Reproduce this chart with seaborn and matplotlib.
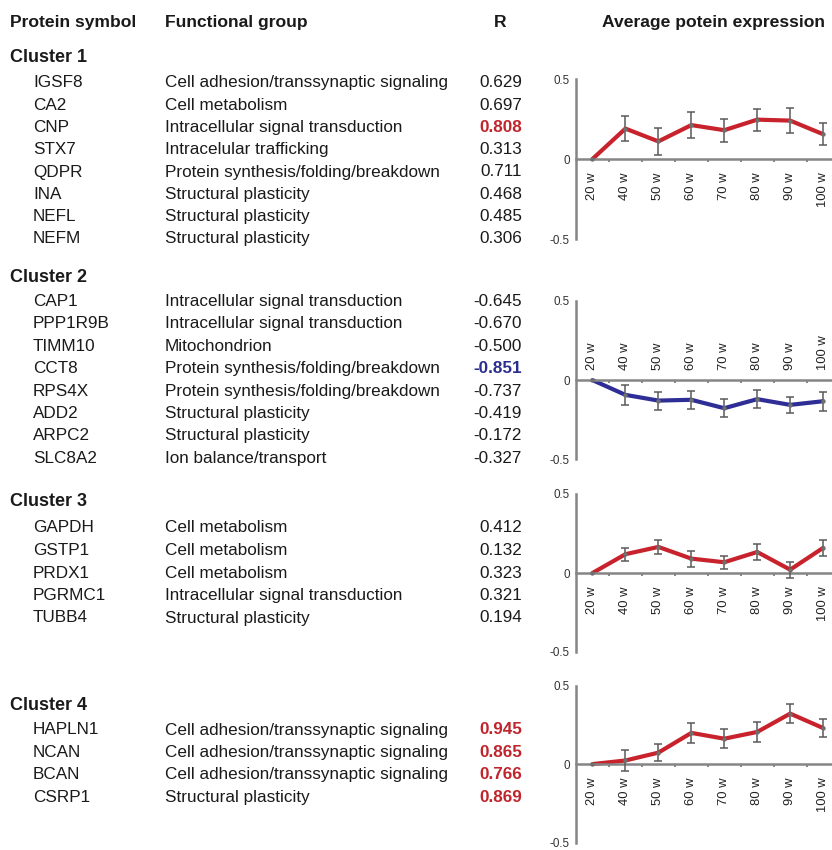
import numpy as np
import pandas as pd
import matplotlib
matplotlib.use("Agg")
import matplotlib.pyplot as plt
from matplotlib.ticker import FixedLocator
import seaborn as sns

sns.set_theme(style="white")
plt.rcParams["font.family"] = ["Liberation Sans", "DejaVu Sans"]

# ---------------------------------------------------------------- data
weeks = ["20 w", "40 w", "50 w", "60 w", "70 w", "80 w", "90 w", "100 w"]

cluster_names = ["Cluster 1", "Cluster 2", "Cluster 3", "Cluster 4"]

c1_symbols = ["IGSF8", "CA2", "CNP", "STX7", "QDPR", "INA", "NEFL", "NEFM"]
c1_groups = ["Cell adhesion/transsynaptic signaling", "Cell metabolism",
             "Intracellular signal transduction", "Intracelular trafficking",
             "Protein synthesis/folding/breakdown", "Structural plasticity",
             "Structural plasticity", "Structural plasticity"]
c1_r = [0.629, 0.697, 0.808, 0.313, 0.711, 0.468, 0.485, 0.306]

c2_symbols = ["CAP1", "PPP1R9B", "TIMM10", "CCT8", "RPS4X", "ADD2", "ARPC2", "SLC8A2"]
c2_groups = ["Intracellular signal transduction", "Intracellular signal transduction",
             "Mitochondrion", "Protein synthesis/folding/breakdown",
             "Protein synthesis/folding/breakdown", "Structural plasticity",
             "Structural plasticity", "Ion balance/transport"]
c2_r = [-0.645, -0.670, -0.500, -0.851, -0.737, -0.419, -0.172, -0.327]

c3_symbols = ["GAPDH", "GSTP1", "PRDX1", "PGRMC1", "TUBB4"]
c3_groups = ["Cell metabolism", "Cell metabolism", "Cell metabolism",
             "Intracellular signal transduction", "Structural plasticity"]
c3_r = [0.412, 0.132, 0.323, 0.321, 0.194]

c4_symbols = ["HAPLN1", "NCAN", "BCAN", "CSRP1"]
c4_groups = ["Cell adhesion/transsynaptic signaling", "Cell adhesion/transsynaptic signaling",
             "Cell adhesion/transsynaptic signaling", "Structural plasticity"]
c4_r = [0.945, 0.865, 0.766, 0.869]

c1_mean = [0.0, 0.190, 0.110, 0.212, 0.180, 0.246, 0.240, 0.155]
c1_err = [0.0, 0.078, 0.083, 0.080, 0.072, 0.068, 0.080, 0.068]
c2_mean = [0.0, -0.093, -0.129, -0.124, -0.177, -0.120, -0.156, -0.133]
c2_err = [0.0, 0.063, 0.057, 0.055, 0.057, 0.057, 0.051, 0.061]
c3_mean = [0.0, 0.119, 0.165, 0.091, 0.068, 0.133, 0.021, 0.159]
c3_err = [0.0, 0.040, 0.047, 0.051, 0.042, 0.051, 0.051, 0.051]
c4_mean = [0.0, 0.023, 0.073, 0.199, 0.162, 0.205, 0.322, 0.230]
c4_err = [0.0, 0.070, 0.054, 0.064, 0.062, 0.064, 0.062, 0.060]

# ---------------------------------------------------------------- styling
W, H = 832, 850
RED = "#c8232c"
BLUE = "#2e2e96"
TXT_RED = "#c0252c"
TXT_BLUE = "#2b2e8f"
INK = "#1a1a1a"
GRAY = "#858585"
ERR = "#5a5a5a"

fig = plt.figure(figsize=(W / 100, H / 100), dpi=100)
fig.patch.set_facecolor("white")


def fx(x):
    return x / W


def fy(y):
    return 1 - y / H


def put(x, y, s, **kw):
    fig.text(fx(x), fy(y), s, va="baseline", **kw)


# column headers
hdr = dict(fontsize=12.6, fontweight="bold", color=INK)
put(10, 27, "Protein symbol", **hdr)
put(165, 27, "Functional group", **hdr)
put(500.5, 27, "R", ha="center", **hdr)
put(713, 27, "Average potein expression", ha="center", **hdr)

# table blocks: (header baseline, first row baseline, row step)
tables = [
    (c1_symbols, c1_groups, c1_r, 61.5, 87.3, 22.3),
    (c2_symbols, c2_groups, c2_r, 281.5, 306.0, 22.4),
    (c3_symbols, c3_groups, c3_r, 506.0, 532.5, 22.5),
    (c4_symbols, c4_groups, c4_r, 710.5, 734.5, 22.45),
]

for name, (syms, grps, rs, yh, y0, dy) in zip(cluster_names, tables):
    put(10, yh, name, fontsize=13, fontweight="bold", color=INK)
    for i, (s, g, r) in enumerate(zip(syms, grps, rs)):
        y = y0 + i * dy
        put(33, y, s, fontsize=12.3, color=INK)
        put(165, y, g, fontsize=12.3, color=INK)
        if abs(r) >= 0.75:
            col = TXT_RED if r > 0 else TXT_BLUE
            put(522, y, f"{r:.3f}", ha="right", fontsize=12.3, fontweight="bold", color=col)
        else:
            put(522, y, f"{r:.3f}", ha="right", fontsize=12.3, color=INK)

# ---------------------------------------------------------------- small line charts
# (pixel top of +0.5, pixel bottom of -0.5, means, errors, colour, labels above axis)
panels = [
    (79.0, 239.0, c1_mean, c1_err, RED, False),
    (300.7, 459.5, c2_mean, c2_err, BLUE, True),
    (494.0, 652.0, c3_mean, c3_err, RED, False),
    (685.7, 842.5, c4_mean, c4_err, RED, False),
]

x_left, x_right = 576.0, 832.0
pos = np.arange(len(weeks))

for top, bot, mean, err, col, above in panels:
    ax = fig.add_axes([fx(x_left), fy(bot), (x_right - x_left) / W, (bot - top) / H])
    ax.set_facecolor("none")
    df = pd.DataFrame({"pos": pos, "mean": mean, "err": err})

    sns.lineplot(data=df, x="pos", y="mean", ax=ax, color=col, lw=3.0,
                 zorder=2, legend=False)
    sub = df[df["err"] > 0]
    ax.errorbar(sub["pos"], sub["mean"], yerr=sub["err"], fmt="none",
                ecolor=ERR, elinewidth=1.1, capsize=2.6, capthick=1.1, zorder=3)
    ax.scatter(df["pos"], df["mean"], s=10, color="#6f6f6f", zorder=4, linewidths=0)

    ax.set_xlim(-0.5, 7.27)
    ax.set_ylim(-0.5, 0.5)
    ax.set_xlabel("")
    ax.set_ylabel("")

    for sp in ax.spines.values():
        sp.set_visible(False)
    ax.spines["left"].set_visible(True)
    ax.spines["left"].set_color(GRAY)
    ax.spines["left"].set_linewidth(1.8)

    ax.set_yticks([-0.5, 0, 0.5])
    ax.set_yticklabels(["-0.5", "0", "0.5"])
    ax.tick_params(axis="y", length=0, pad=4.5, labelsize=8.4, labelcolor="#333333")

    side = "top" if above else "bottom"
    sp = ax.spines[side]
    sp.set_visible(True)
    sp.set_position(("data", 0))
    sp.set_color(GRAY)
    sp.set_linewidth(1.8)
    if above:
        ax.xaxis.set_ticks_position("top")
        ax.xaxis.set_label_position("top")
    ax.set_xticks(pos)
    ax.set_xticklabels(weeks, rotation=90)
    ax.xaxis.set_minor_locator(FixedLocator(pos[:-1] + 0.5))
    ax.tick_params(axis="x", which="major", length=0, pad=7 if above else 9.5,
                   labelsize=9.4, labelcolor="#222222",
                   top=above, bottom=not above, labeltop=above, labelbottom=not above)
    ax.tick_params(axis="x", which="minor", length=2.5, width=1.4, color=GRAY,
                   direction="in" if above else "out",
                   top=above, bottom=not above)
    ax.grid(False)

fig.savefig("out.png", dpi=100, facecolor="white")
